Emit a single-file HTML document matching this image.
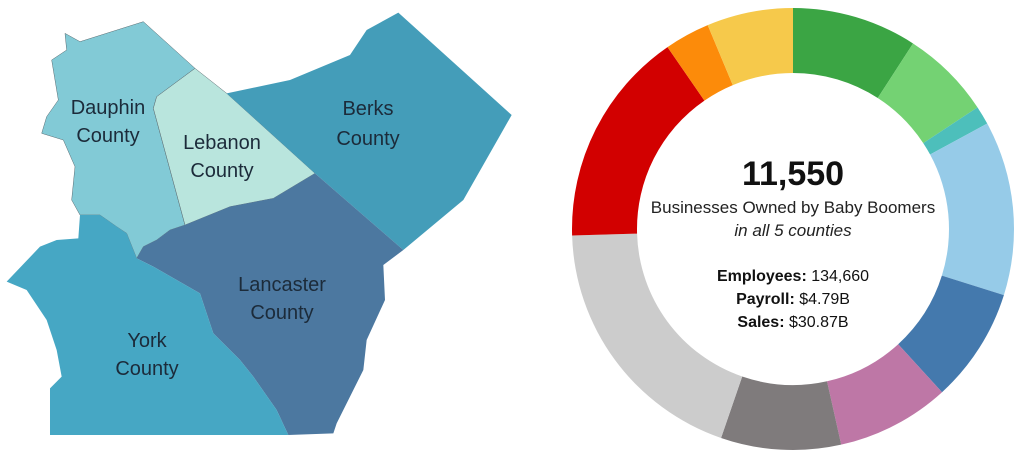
<!DOCTYPE html>
<html><head><meta charset="utf-8"><style>
html,body{margin:0;padding:0;background:#fff;width:1024px;height:462px;overflow:hidden}
svg{display:block}
text{font-family:"Liberation Sans",sans-serif}
</style></head><body>
<svg width="1024" height="462" viewBox="0 0 1024 462" xmlns="http://www.w3.org/2000/svg">
<g transform="scale(0.33333)" stroke="#5a6a70" stroke-width="1.5" stroke-linejoin="round">
<path fill="#82cad6" d="M195,100 L240,125 L430,65 L585,205 L470,290 L460,325 L555,675 L510,690 L470,720 L430,740 L410,775 L380,700 L350,680 L300,645 L240,645 L215,600 L225,500 L190,420 L125,400 L140,350 L175,300 L155,180 L200,150 Z"/>
<path fill="#b9e5dd" d="M585,205 L680,280 L945,520 L820,595 L690,620 L555,675 L460,325 L470,290 Z"/>
<path fill="#449db9" stroke="none" d="M680,280 L870,240 L1050,165 L1100,90 L1195,38 L1535,345 L1390,600 L1210,750 L945,520 Z"/>
<path fill="#4c78a0" stroke="none" d="M945,520 L1210,750 L1150,795 L1155,900 L1100,1020 L1090,1110 L1060,1170 L1010,1270 L1000,1300 L865,1305 L830,1230 L760,1130 L720,1080 L640,1000 L600,880 L530,840 L460,800 L410,775 L430,740 L470,720 L510,690 L555,675 L690,620 L820,595 Z"/>
<path fill="#46a7c4" stroke="none" d="M410,775 L380,700 L350,680 L300,645 L240,645 L235,715 L170,720 L120,740 L20,845 L80,870 L140,960 L170,1050 L185,1130 L150,1165 L150,1305 L865,1305 L830,1230 L760,1130 L720,1080 L640,1000 L600,880 L530,840 L460,800 Z"/>
</g>
<g font-size="20" fill="#1c2b3a" text-anchor="middle">
<text x="108" y="114">Dauphin</text><text x="108" y="142">County</text>
<text x="222" y="149">Lebanon</text><text x="222" y="177">County</text>
<text x="368" y="115">Berks</text><text x="368" y="145">County</text>
<text x="282" y="291">Lancaster</text><text x="282" y="319">County</text>
<text x="147" y="347">York</text><text x="147" y="375">County</text>
</g>
<g id="donut"></g>
<g text-anchor="middle" fill="#111">
<text x="793" y="185" font-size="34" font-weight="bold">11,550</text>
<text x="793" y="213" font-size="17" fill="#222">Businesses Owned by Baby Boomers</text>
<text x="793" y="236" font-size="17" font-style="italic" fill="#222">in all 5 counties</text>
<text x="793" y="281" font-size="16"><tspan font-weight="bold">Employees:</tspan> 134,660</text>
<text x="793" y="304" font-size="16"><tspan font-weight="bold">Payroll:</tspan> $4.79B</text>
<text x="793" y="327" font-size="16"><tspan font-weight="bold">Sales:</tspan> $30.87B</text>
</g>
</svg>
<script>
var segs=[[0,32.9,"#3ba544"],[32.9,56.6,"#74d273"],[56.6,61.5,"#4dbfbb"],[61.5,107.4,"#96cbe8"],[107.4,137.6,"#4479ad"],[137.6,167.4,"#be77a6"],[167.4,199,"#7f7b7c"],[199,268.3,"#cccccc"],[268.3,325.4,"#d20000"],[325.4,337.3,"#fc8b0a"],[337.3,360,"#f6c94b"]];
var cx=793,cy=229,R=221,r=156,g=document.getElementById("donut"),ns="http://www.w3.org/2000/svg";
function p(a,rad){a=a*Math.PI/180;return [(cx+rad*Math.sin(a)).toFixed(2),(cy-rad*Math.cos(a)).toFixed(2)];}
segs.forEach(function(s){var l=(s[1]-s[0])>180?1:0,a=p(s[0],R),b=p(s[1],R),c=p(s[1],r),d=p(s[0],r);
var e=document.createElementNS(ns,"path");e.setAttribute("fill",s[2]);
e.setAttribute("d","M"+a+" A"+R+" "+R+" 0 "+l+" 1 "+b+" L"+c+" A"+r+" "+r+" 0 "+l+" 0 "+d+" Z");g.appendChild(e);});
</script>
</body></html>
